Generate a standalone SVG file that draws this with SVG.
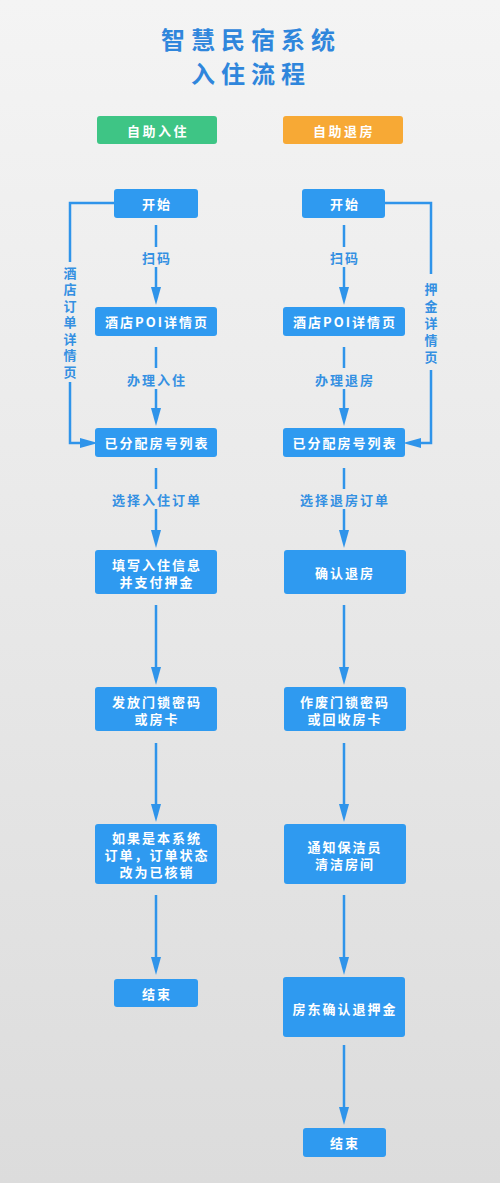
<svg xmlns="http://www.w3.org/2000/svg" width="500" height="1183" viewBox="0 0 500 1183">
<defs>
<linearGradient id="bg" x1="0" y1="0" x2="0" y2="1">
<stop offset="0" stop-color="#f4f4f4"/>
<stop offset="1" stop-color="#dcdcdc"/>
</linearGradient>
<marker id="ah" markerUnits="userSpaceOnUse" markerWidth="18" markerHeight="12" refX="9" refY="6" orient="auto" viewBox="0 0 18 12">
<path d="M0,1 L18,6 L0,11 Z" fill="#2f94ea"/>
</marker>
<style>
text{font-family:"Noto Sans CJK SC","Noto Sans",sans-serif;font-weight:bold;text-anchor:middle;dominant-baseline:central}
.title{fill:#2f86dc;font-size:24px;letter-spacing:6px}
.hdr{fill:#ffffff;font-size:13px;letter-spacing:2.5px}
.box{fill:#2f9af0}
.bt{fill:#ffffff;font-size:13px;letter-spacing:2px}
.lbl{fill:#3490e2;font-size:13px;letter-spacing:2px}
.vl{fill:#3490e2;font-size:13px;writing-mode:vertical-rl;text-anchor:start}
.ln{stroke:#2f94ea;stroke-width:2.5;fill:none}
</style>
</defs>
<rect width="500" height="1183" fill="url(#bg)"/>
<g id="title">
<text class="title" x="251" y="38">智慧民宿系统</text>
<text class="title" x="251" y="72">入住流程</text>
</g>
<g id="hdr-checkin"><rect x="97" y="116" width="120" height="28" rx="3" fill="#3ec585"/><text class="hdr" x="158" y="130">自助入住</text></g>
<g id="hdr-checkout"><rect x="283" y="116" width="120" height="28" rx="3" fill="#f7a935"/><text class="hdr" x="344" y="130">自助退房</text></g>

<g id="connectors">
<line class="ln" x1="156" y1="225" x2="156" y2="247"/>
<line class="ln" x1="156" y1="267" x2="156" y2="296" marker-end="url(#ah)"/>
<line class="ln" x1="156" y1="347" x2="156" y2="368"/>
<line class="ln" x1="156" y1="389" x2="156" y2="417" marker-end="url(#ah)"/>
<line class="ln" x1="156" y1="468" x2="156" y2="489"/>
<line class="ln" x1="156" y1="509" x2="156" y2="539" marker-end="url(#ah)"/>
<line class="ln" x1="156" y1="605" x2="156" y2="676" marker-end="url(#ah)"/>
<line class="ln" x1="156" y1="743" x2="156" y2="813" marker-end="url(#ah)"/>
<line class="ln" x1="156" y1="895" x2="156" y2="966" marker-end="url(#ah)"/>
<path class="ln" d="M114,203 H70 V262"/>
<path class="ln" d="M70,382 V443 H89" marker-end="url(#ah)"/>

<line class="ln" x1="344" y1="225" x2="344" y2="247"/>
<line class="ln" x1="344" y1="267" x2="344" y2="296" marker-end="url(#ah)"/>
<line class="ln" x1="344" y1="347" x2="344" y2="368"/>
<line class="ln" x1="344" y1="389" x2="344" y2="417" marker-end="url(#ah)"/>
<line class="ln" x1="344" y1="468" x2="344" y2="489"/>
<line class="ln" x1="344" y1="509" x2="344" y2="539" marker-end="url(#ah)"/>
<line class="ln" x1="344" y1="605" x2="344" y2="676" marker-end="url(#ah)"/>
<line class="ln" x1="344" y1="743" x2="344" y2="813" marker-end="url(#ah)"/>
<line class="ln" x1="344" y1="895" x2="344" y2="966" marker-end="url(#ah)"/>
<line class="ln" x1="344" y1="1045" x2="344" y2="1116" marker-end="url(#ah)"/>
<path class="ln" d="M384,203 H431 V274"/>
<path class="ln" d="M431,370 V443 H412" marker-end="url(#ah)"/>

<text class="lbl" x="157" y="257">扫码</text>
<text class="lbl" x="157" y="379">办理入住</text>
<text class="lbl" x="157" y="499">选择入住订单</text>
<text class="lbl" x="345" y="257">扫码</text>
<text class="lbl" x="345" y="379">办理退房</text>
<text class="lbl" x="345" y="499">选择退房订单</text>
<text class="vl" x="70" y="266.5" style="letter-spacing:3.5px">酒店订单详情页</text>
<text class="vl" x="431" y="282.5" style="letter-spacing:4px">押金详情页</text>
</g>

<g id="l-start"><rect class="box" x="114" y="189" width="84" height="29" rx="3"/><text class="bt" x="157" y="203.5">开始</text></g>
<g id="l-poi"><rect class="box" x="95" y="307" width="122" height="29" rx="3"/><text class="bt" x="157" y="321.5">酒店POI详情页</text></g>
<g id="l-rooms"><rect class="box" x="95" y="428" width="122" height="29" rx="3"/><text class="bt" x="157" y="442.5">已分配房号列表</text></g>
<g id="l-fill"><rect class="box" x="95" y="550" width="122" height="44" rx="3"/><text class="bt" x="157" y="564">填写入住信息</text><text class="bt" x="157" y="581">并支付押金</text></g>
<g id="l-issue"><rect class="box" x="95" y="687" width="122" height="44" rx="3"/><text class="bt" x="157" y="701">发放门锁密码</text><text class="bt" x="157" y="718">或房卡</text></g>
<g id="l-verify"><rect class="box" x="95" y="824" width="122" height="60" rx="3"/><text class="bt" x="157" y="837">如果是本系统</text><text class="bt" x="157" y="854">订单，订单状态</text><text class="bt" x="157" y="871">改为已核销</text></g>
<g id="l-end"><rect class="box" x="114" y="979" width="84" height="28" rx="3"/><text class="bt" x="157" y="993">结束</text></g>

<g id="r-start"><rect class="box" x="302" y="189" width="83" height="29" rx="3"/><text class="bt" x="345" y="203.5">开始</text></g>
<g id="r-poi"><rect class="box" x="283" y="307" width="122" height="29" rx="3"/><text class="bt" x="345" y="321.5">酒店POI详情页</text></g>
<g id="r-rooms"><rect class="box" x="283" y="428" width="122" height="29" rx="3"/><text class="bt" x="345" y="442.5">已分配房号列表</text></g>
<g id="r-confirm"><rect class="box" x="284" y="550" width="122" height="44" rx="3"/><text class="bt" x="345" y="572">确认退房</text></g>
<g id="r-void"><rect class="box" x="284" y="687" width="122" height="44" rx="3"/><text class="bt" x="345" y="701">作废门锁密码</text><text class="bt" x="345" y="718">或回收房卡</text></g>
<g id="r-clean"><rect class="box" x="284" y="824" width="122" height="60" rx="3"/><text class="bt" x="345" y="846">通知保洁员</text><text class="bt" x="345" y="863">清洁房间</text></g>
<g id="r-refund"><rect class="box" x="283" y="977" width="122" height="60" rx="3"/><text class="bt" x="345" y="1008">房东确认退押金</text></g>
<g id="r-end"><rect class="box" x="303" y="1128" width="83" height="29" rx="3"/><text class="bt" x="345" y="1142.5">结束</text></g>
</svg>
